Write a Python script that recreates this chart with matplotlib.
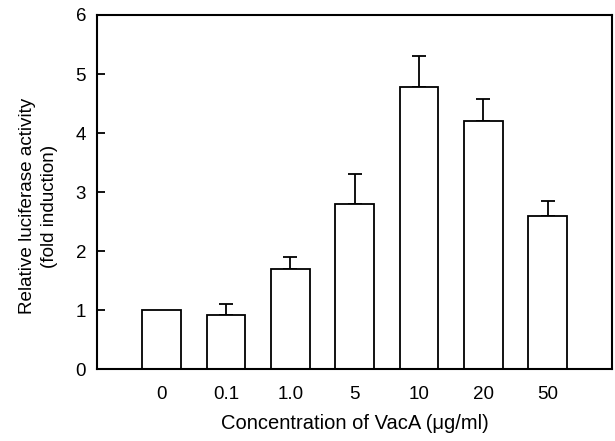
import matplotlib
matplotlib.use("Agg")
import matplotlib.pyplot as plt
import numpy as np

plt.rcParams['font.family'] = ['Liberation Sans', 'DejaVu Sans']

categories = ["0", "0.1", "1.0", "5", "10", "20", "50"]
values = [1.0, 0.91, 1.69, 2.80, 4.78, 4.21, 2.59]
errors = [0.0, 0.19, 0.21, 0.51, 0.53, 0.37, 0.25]

fig = plt.figure(figsize=(6.15, 4.41), dpi=100)
ax = fig.add_axes([0.158, 0.163, 0.837, 0.803])

x = np.arange(len(categories))
ax.bar(x, values, width=0.6, color='white', edgecolor='black', linewidth=1.3, zorder=2)
yerr = np.array([np.zeros(len(errors)), errors])
mask = np.array(errors) > 0
ax.errorbar(x[mask], np.array(values)[mask], yerr=yerr[:, mask], fmt='none',
            ecolor='black', elinewidth=1.3, capsize=4.8, capthick=1.3, zorder=1)

ax.set_xlim(-1, 7)
ax.set_ylim(0, 6)
ax.set_yticks(range(0, 7))
ax.set_xticks(x)
ax.set_xticklabels(categories)
ax.tick_params(axis='x', length=0, pad=12, labelsize=13.5)
ax.tick_params(axis='y', direction='in', length=6, width=1.3, pad=8, labelsize=13.5)
for s in ax.spines.values():
    s.set_linewidth(1.5)

ax.set_ylabel("Relative luciferase activity\n(fold induction)", fontsize=13.6, linespacing=1.35)
ax.yaxis.set_label_coords(-0.076, 0.46)
ax.set_xlabel("Concentration of VacA (\u03bcg/ml)", fontsize=14.5, labelpad=8)

fig.savefig("out.png", dpi=100)
